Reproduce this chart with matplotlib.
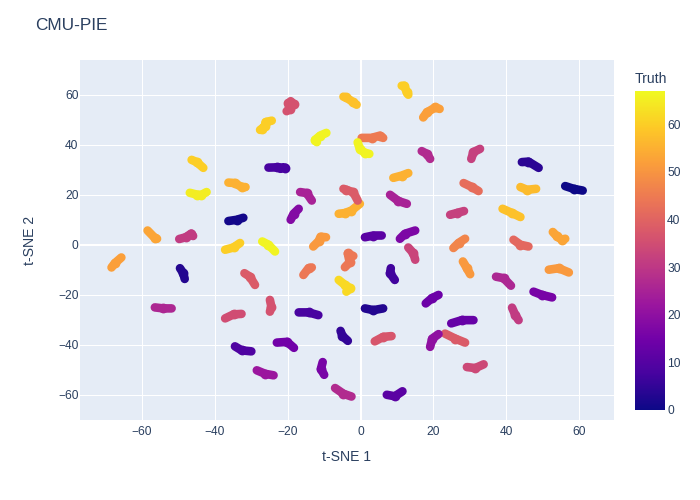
#!/usr/bin/env python3
"""CMU-PIE t-SNE embedding, one stroke-like blob per subject."""

import matplotlib
matplotlib.use("Agg")
import matplotlib.pyplot as plt
from matplotlib.colors import LinearSegmentedColormap, Normalize
from matplotlib.cm import ScalarMappable

PLASMA = ["#0d0887", "#46039f", "#7201a8", "#9c179e", "#bd3786",
          "#d8576b", "#ed7953", "#fb9f3a", "#fdca26", "#f0f921"]
TEXT = "#2a3f5f"

truth = [36, 60, 66, 60, 8, 55, 65, 25, 1, 18, 55, 58, 38, 31, 53, 51,
         60, 52, 45, 66, 27, 32, 4, 55, 42, 57, 0, 25, 32, 58, 53, 11,
         17, 47, 41, 33, 51, 51, 44, 7, 26, 14, 16, 62, 3, 31, 13, 38,
         20, 37, 5, 34, 11, 27, 52, 3, 60, 66, 44, 38, 36, 35, 26, 8,
         9, 15, 22, 16]

cluster_x = [
    [-19.2, -18.4, -19.8, -19.5, -20.3],
    [-24.4, -26.1, -26.3, -27.2, -27.6],
    [-9.4, -11.1, -12.5, -12.0],
    [-46.4, -45.0, -43.2],
    [-25.3, -23.0, -20.7, -22.0],
    [-36.3, -34.5, -32.7, -31.6],
    [-46.9, -45.0, -43.7, -42.3],
    [-16.6, -14.8, -13.4],
    [-36.3, -34.0, -32.2],
    [-17.0, -18.4, -19.2],
    [-0.2, -2.5, -4.3, -6.0],
    [-4.7, -3.9, -2.0, -1.1],
    [-4.7, -3.9, -2.0, -0.8],
    [-49.8, -48.0, -46.5, -46.0],
    [-58.5, -56.5, -55.9],
    [-9.5, -11.0, -11.5, -13.0],
    [11.3, 12.0, 12.7, 13.1],
    [21.7, 20.5, 18.2, 17.2],
    [0.3, 3.0, 5.3, 6.2],
    [-0.8, -0.2, 1.2, 2.4],
    [16.8, 18.2, 19.1],
    [32.8, 31.0, 30.4],
    [44.3, 46.1, 48.9],
    [9.0, 11.3, 13.1],
    [28.3, 30.6, 32.4],
    [43.9, 45.7, 48.2],
    [56.2, 58.5, 61.0],
    [8.1, 10.4, 12.7],
    [24.6, 26.4, 28.4],
    [39.0, 41.6, 43.9],
    [52.8, 53.9, 55.3, 56.2],
    [1.2, 3.5, 5.8],
    [10.8, 12.2, 15.0],
    [28.7, 26.9, 25.5],
    [42.0, 43.9, 46.1],
    [13.1, 14.5, 15.0],
    [28.1, 29.2, 30.1],
    [51.7, 54.4, 57.2],
    [-2.0, -3.5, -3.0, -4.3],
    [8.3, 8.1, 9.4],
    [37.2, 39.3, 41.3],
    [21.4, 19.5, 17.9],
    [47.5, 49.8, 52.6],
    [-6.0, -4.3, -2.9, -3.9],
    [1.2, 3.5, 6.2],
    [41.6, 42.5, 43.4],
    [24.9, 27.8, 31.0],
    [23.2, 26.0, 28.7],
    [21.4, 19.7, 19.1],
    [3.9, 6.2, 8.5],
    [-5.5, -5.0, -3.5],
    [29.2, 31.5, 33.8],
    [7.2, 9.4, 11.5],
    [-7.0, -4.7, -2.5],
    [-65.7, -67.5, -68.4],
    [-49.6, -48.7, -48.3],
    [-37.2, -34.9, -33.1],
    [-27.0, -25.3, -23.5],
    [-15.7, -14.3, -13.4],
    [-31.9, -30.4, -29.0],
    [-24.9, -24.5, -24.9],
    [-37.2, -34.9, -32.7],
    [-56.5, -54.2, -51.9],
    [-17.0, -14.3, -11.6],
    [-34.5, -32.7, -30.0],
    [-23.0, -20.2, -18.3],
    [-28.5, -26.2, -23.9],
    [-10.4, -10.9, -10.0],
]

cluster_y = [
    [57.5, 56.4, 56.7, 54.4, 53.5],
    [49.7, 49.1, 47.5, 46.4, 46.0],
    [44.8, 43.7, 42.0, 41.1],
    [34.0, 33.1, 30.8],
    [30.9, 31.0, 30.9, 30.4],
    [24.9, 24.7, 23.1, 23.1],
    [20.8, 20.1, 20.0, 21.1],
    [21.1, 20.7, 17.7],
    [9.5, 10.0, 10.8],
    [14.4, 12.4, 10.0],
    [16.4, 13.7, 12.7, 12.4],
    [59.3, 59.0, 57.0, 56.1],
    [22.4, 22.0, 21.0, 17.7],
    [2.3, 3.0, 4.5, 3.5],
    [5.7, 2.7, 2.4],
    [3.0, 3.2, 1.5, -0.7],
    [63.7, 63.7, 61.0, 60.1],
    [54.4, 55.0, 53.0, 51.0],
    [42.8, 42.8, 43.7, 42.8],
    [41.0, 38.4, 36.7, 36.4],
    [37.5, 36.4, 34.4],
    [38.4, 37.1, 34.4],
    [33.1, 33.3, 30.8],
    [26.8, 27.7, 28.7],
    [24.7, 23.1, 21.5],
    [23.1, 22.0, 22.4],
    [23.5, 22.4, 21.7],
    [20.0, 17.5, 16.4],
    [12.0, 12.7, 13.5],
    [14.4, 12.7, 11.1],
    [5.1, 3.4, 2.0, 2.4],
    [3.0, 3.7, 3.7],
    [2.4, 4.4, 5.7],
    [2.4, 0.7, -1.3],
    [2.0, 0.0, -0.7],
    [-1.1, -3.4, -6.0],
    [-6.7, -9.4, -11.8],
    [-10.0, -9.4, -11.1],
    [-4.5, -3.5, -7.0, -9.0],
    [-9.4, -11.4, -14.1],
    [-12.8, -13.4, -16.4],
    [-20.1, -21.5, -23.5],
    [-18.8, -20.1, -21.1],
    [-14.1, -16.1, -17.4, -18.8],
    [-25.5, -26.2, -25.5],
    [-25.2, -28.2, -30.2],
    [-31.5, -30.2, -30.2],
    [-35.6, -37.6, -39.2],
    [-35.8, -37.6, -40.9],
    [-38.7, -36.9, -36.6],
    [-34.5, -36.5, -38.5],
    [-49.0, -49.4, -47.9],
    [-60.1, -60.7, -58.7],
    [-57.4, -59.7, -60.8],
    [-5.1, -7.4, -9.1],
    [-9.4, -11.4, -13.7],
    [-2.0, -1.1, 0.7],
    [1.3, 0.0, -2.7],
    [-12.1, -9.4, -9.1],
    [-11.4, -12.8, -16.1],
    [-22.1, -24.8, -26.8],
    [-29.5, -27.9, -27.7],
    [-25.1, -25.5, -25.5],
    [-27.1, -27.1, -28.2],
    [-40.7, -42.3, -42.7],
    [-39.2, -38.9, -41.3],
    [-50.3, -51.7, -52.3],
    [-47.0, -49.7, -52.1],
]

x_ticks = [-60, -40, -20, 0, 20, 40, 60]
y_ticks = [-60, -40, -20, 0, 20, 40, 60]
bar_ticks = [0, 10, 20, 30, 40, 50, 60]

W, H = 700, 500


def frac_box(left, top, right, bottom):
    return [left / W, 1 - bottom / H, (right - left) / W, (bottom - top) / H]


def minus(v):
    return str(v).replace("-", "\u2212")


plt.rcParams["font.family"] = ["Liberation Sans", "DejaVu Sans"]

cmap = LinearSegmentedColormap.from_list("plasma_plotly", PLASMA)
norm = Normalize(vmin=0, vmax=67)

fig = plt.figure(figsize=(7, 5), dpi=100)
ax = fig.add_axes(frac_box(80, 60, 614, 420))
ax.set_facecolor("#E5ECF6")
for spine in ax.spines.values():
    spine.set_visible(False)

ax.set_xlim(-77.06, 69.6)
ax.set_ylim(-70.2, 74.0)
ax.set_xticks(x_ticks, [minus(v) for v in x_ticks])
ax.set_yticks(y_ticks, [minus(v) for v in y_ticks])
ax.tick_params(length=0, labelsize=8.64, labelcolor=TEXT)
ax.tick_params(axis="x", pad=4)
ax.tick_params(axis="y", pad=1)
ax.grid(True, color="white", linewidth=0.75)
ax.set_axisbelow(True)
ax.axvline(0, color="white", linewidth=1.5, zorder=1)
ax.axhline(0, color="white", linewidth=1.5, zorder=1)

for t, xs, ys in zip(truth, cluster_x, cluster_y):
    c = cmap(norm(t))
    ax.plot(xs, ys, color=c, linewidth=6.2, solid_capstyle="round",
            solid_joinstyle="round", zorder=3)
    ax.scatter(xs[1:-1], ys[1:-1], s=50, color=c, linewidths=0, zorder=3)

ax.set_xlabel("t-SNE 1", fontsize=10.1, color=TEXT, labelpad=9)
ax.set_ylabel("t-SNE 2", fontsize=10.1, color=TEXT, labelpad=15.5)

fig.text(35 / W, 1 - 25 / H, "CMU-PIE", fontsize=12.4, color=TEXT, va="center")

cax = fig.add_axes(frac_box(635, 91, 665, 410))
cbar = fig.colorbar(ScalarMappable(norm=norm, cmap=cmap), cax=cax)
cbar.outline.set_visible(False)
cbar.set_ticks(bar_ticks)
cbar.ax.tick_params(length=0, labelsize=8.64, labelcolor=TEXT, pad=1.5)
fig.text(635 / W, 1 - 79 / H, "Truth", fontsize=10.1, color=TEXT, va="center")

fig.savefig("out.png", dpi=100, facecolor="white")
